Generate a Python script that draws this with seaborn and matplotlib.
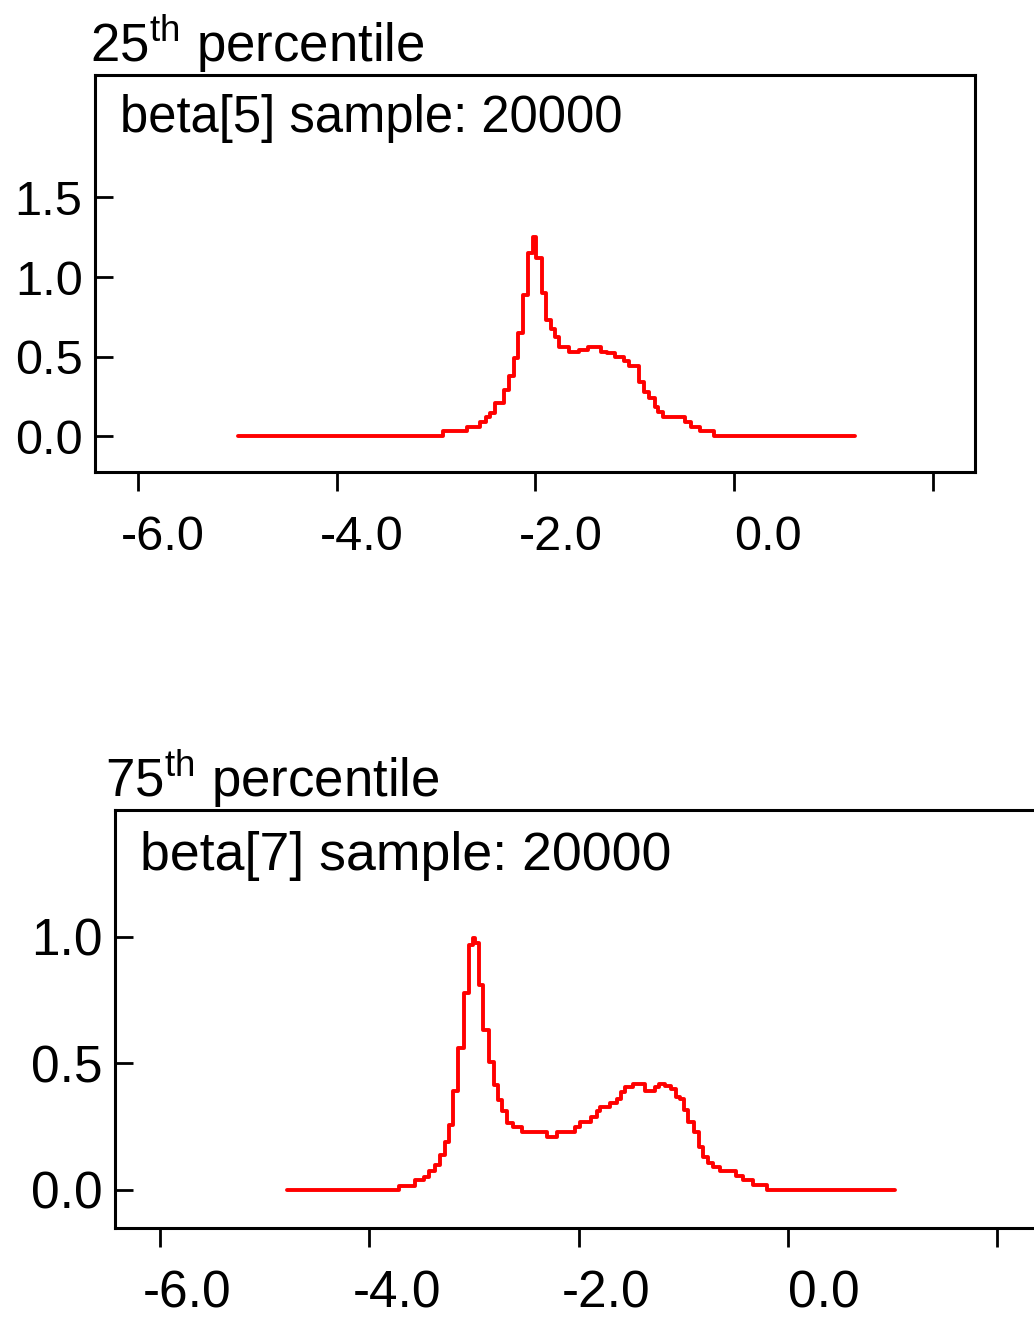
import matplotlib
matplotlib.use("Agg")
import matplotlib.pyplot as plt
import matplotlib.transforms as mtransforms
import pandas as pd
import seaborn as sns

# beta[5] density (25th percentile): step edges and heights
b5_edges = [-4.99, -2.93, -2.69, -2.56, -2.50, -2.46, -2.41, -2.32, -2.27, -2.22,
            -2.18, -2.13, -2.08, -2.03, -1.99, -1.93, -1.89, -1.84, -1.80, -1.76,
            -1.66, -1.56, -1.47, -1.34, -1.28, -1.20, -1.11, -1.06, -0.955, -0.905,
            -0.855, -0.80, -0.77, -0.72, -0.50, -0.44, -0.35, -0.20, 1.21]
b5_vals = [0.0, 0.033, 0.058, 0.09, 0.12, 0.147, 0.21, 0.29, 0.38, 0.49,
           0.65, 0.89, 1.15, 1.25, 1.12, 0.90, 0.73, 0.67, 0.62, 0.56,
           0.53, 0.54, 0.56, 0.53, 0.52, 0.50, 0.47, 0.44, 0.34, 0.28,
           0.24, 0.18, 0.15, 0.12, 0.09, 0.06, 0.033, 0.0]

# beta[7] density (75th percentile)
b7_edges = [-4.79, -3.715, -3.56, -3.48, -3.43, -3.37, -3.32, -3.28, -3.24, -3.20,
            -3.15, -3.09, -3.05, -3.01, -2.99, -2.95, -2.91, -2.86, -2.81, -2.77,
            -2.73, -2.68, -2.63, -2.54, -2.30, -2.21, -2.035, -1.988, -1.883, -1.828,
            -1.797, -1.701, -1.637, -1.596, -1.558, -1.478, -1.367, -1.272, -1.233, -1.176,
            -1.112, -1.064, -1.033, -0.991, -0.953, -0.896, -0.852, -0.810, -0.762, -0.714,
            -0.651, -0.492, -0.428, -0.332, -0.196, 1.02]
b7_vals = [0.0, 0.017, 0.04, 0.053, 0.076, 0.099, 0.138, 0.19, 0.257, 0.389,
           0.56, 0.777, 0.968, 0.995, 0.975, 0.81, 0.63, 0.507, 0.415, 0.356,
           0.31, 0.266, 0.248, 0.229, 0.21, 0.229, 0.248, 0.27, 0.29, 0.313,
           0.327, 0.345, 0.358, 0.385, 0.406, 0.42, 0.39, 0.406, 0.42, 0.41,
           0.40, 0.369, 0.36, 0.316, 0.27, 0.227, 0.171, 0.132, 0.105, 0.092,
           0.076, 0.055, 0.04, 0.02, 0.0]

xticks = [-6, -4, -2, 0, 2]
xtick_labels = ["-6.0", "-4.0", "-2.0", "0.0", ""]
yticks_top = [0.0, 0.5, 1.0, 1.5]
yticks_bottom = [0.0, 0.5, 1.0]

sns.set_theme(style="white")
plt.rcParams["font.family"] = ["Liberation Sans", "DejaVu Sans"]
plt.rcParams["mathtext.fontset"] = "custom"
plt.rcParams["mathtext.rm"] = "Liberation Sans"
plt.rcParams["text.color"] = "black"

fig = plt.figure(figsize=(10.34, 13.20), dpi=100)


def draw_panel(rect, edges, vals, yticks, ylim, label, title, fs, lfs, tfs, xpad,
               title_xy, label_xy, right_spine):
    ax = fig.add_axes(rect)
    df = pd.DataFrame({"x": edges, "y": vals + [vals[-1]]})
    sns.lineplot(data=df, x="x", y="y", ax=ax, color="#ff0000", linewidth=2.8,
                 drawstyle="steps-post", estimator=None, sort=False)
    ax.set_xlim(-6.43, 2.42)
    ax.set_ylim(*ylim)
    ax.set_xlabel("")
    ax.set_ylabel("")
    ax.set_xticks(xticks)
    ax.set_xticklabels(xtick_labels)
    ax.set_yticks(yticks)
    ax.set_yticklabels([f"{v:.1f}" for v in yticks])
    ax.tick_params(axis="x", bottom=True, direction="out", length=14, width=2,
                   pad=xpad, labelsize=fs, colors="black")
    ax.tick_params(axis="y", left=True, direction="in", length=13, width=2, pad=9,
                   labelsize=fs, colors="black")
    for sp in ax.spines.values():
        sp.set_linewidth(2.2)
        sp.set_color("black")
    ax.spines["right"].set_visible(right_spine)
    # labels start their digits at the tick, the minus hangs to the left
    for lab in ax.get_xticklabels():
        dx = -0.17 if lab.get_text().startswith("-") else 0.0
        lab.set_ha("left")
        lab.set_transform(lab.get_transform() +
                          mtransforms.ScaledTranslation(dx, 0, fig.dpi_scale_trans))
    fig.text(label_xy[0], label_xy[1], label, fontsize=lfs, ha="left", va="baseline",
             color="black")
    fig.text(title_xy[0], title_xy[1], title, fontsize=tfs, ha="left", va="baseline",
             color="black")
    return ax


draw_panel([0.0919, 0.6424, 0.851, 0.3008], b5_edges, b5_vals, yticks_top,
           (-0.226, 2.27), "beta[5] sample: 20000", r"25$^{\mathrm{th}}$ percentile",
           35, 36.5, 38, 17, (0.087, 0.953), (0.116, 0.90), True)
draw_panel([0.1112, 0.0697, 0.8956, 0.3167], b7_edges, b7_vals, yticks_bottom,
           (-0.15, 1.50), "beta[7] sample: 20000", r"75$^{\mathrm{th}}$ percentile",
           37, 38.6, 38, 16, (0.102, 0.396), (0.135, 0.341), False)

fig.savefig("out.png", dpi=100, facecolor="white")
